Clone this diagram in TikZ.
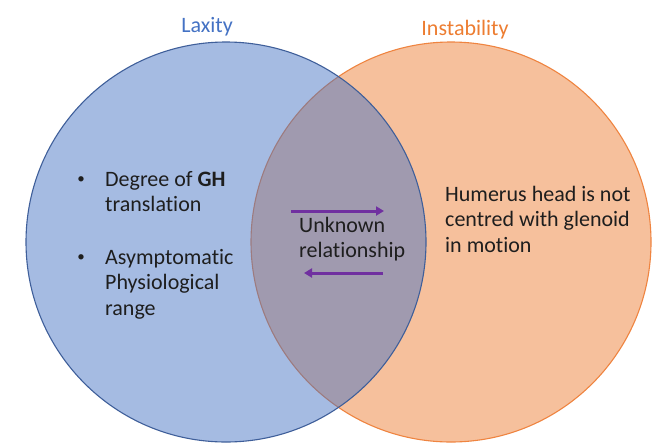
\documentclass[tikz,border=0pt]{standalone}
\usepackage{fontspec}
\setmainfont{Carlito}[Ligatures=NoCommon]
\usetikzlibrary{arrows.meta}
\definecolor{bluefill}{HTML}{4472C4}
\definecolor{orangefill}{HTML}{ED7D31}
\definecolor{blueline}{HTML}{3F5F9A}
\definecolor{orangeline}{HTML}{EF8440}
\definecolor{purp}{HTML}{7030A0}
\definecolor{txt}{HTML}{1E1E1E}
\begin{document}
\begin{tikzpicture}[x=1pt,y=-1pt,
  body/.style={font=\fontsize{22}{25.5}\selectfont, text=txt, align=left, inner sep=0pt, anchor=base west},
  bulletdot/.style={font=\fontsize{15}{18}\selectfont, text=txt, inner sep=0pt, anchor=base},
  titletxt/.style={font=\fontsize{22}{25.5}\selectfont, inner sep=0pt, anchor=base},
  relarrow/.style={draw=purp, line width=3pt, -{Triangle[length=8pt,width=9pt]}}]
\useasboundingbox (0,0) rectangle (652,442);
\fill[white] (0,0) rectangle (652,442);
% circles
\draw[orangeline, line width=1.1pt, fill=orangefill, fill opacity=0.48] (451,242) circle[radius=200];
\draw[blueline, line width=1.1pt, fill=bluefill, fill opacity=0.48] (226,242) circle[radius=200];
% titles
\node[titletxt, text=bluefill] (laxity) at (207,32) {Laxity};
\node[titletxt, text=orangefill] (instab) at (465,35) {Instability};
% left bullets (base anchor = last line)
\node[bulletdot] (b1) at (81,183) {•};
\node[body] (t1) at (105,211.5) {Degree of \textbf{GH}\\translation};
\node[bulletdot] (b2) at (81,261) {•};
\node[body] (t2) at (105,315) {Asymptomatic\\Physiological\\range};
% middle
\node[body] (mid) at (299,257.5) {Unknown\\relationship};
\coordinate (a1s) at (291,211);
\coordinate (a1e) at (384,211);
\coordinate (a2s) at (383,273);
\coordinate (a2e) at (304,273);
\draw[relarrow] (a1s) -- (a1e);
\draw[relarrow] (a2s) -- (a2e);
% right
\node[body] (right) at (445,252) {Humerus head is not\\centred with glenoid\\in motion};
\end{tikzpicture}
\end{document}
